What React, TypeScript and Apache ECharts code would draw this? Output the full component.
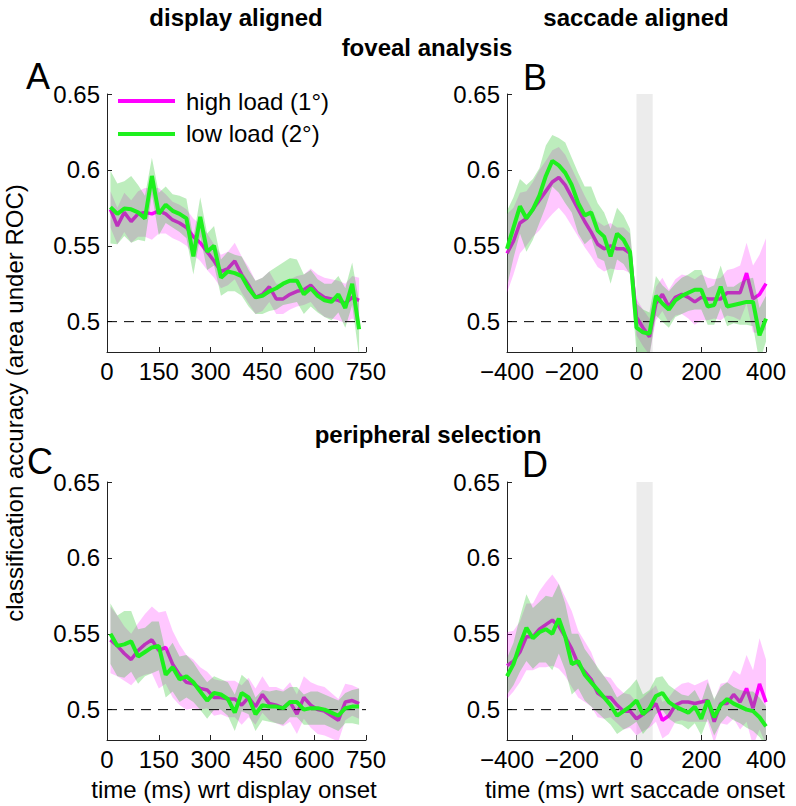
import React, { useEffect, useRef } from "react";
import * as echarts from "echarts";

// ---------- data ----------
const TIMES_DISPLAY = [10, 30, 50, 70, 90, 110, 130, 150, 170, 190, 210, 230, 250, 270, 290, 310, 330, 350, 370, 390, 410, 430, 450, 470, 490, 510, 530, 550, 570, 590, 610, 630, 650, 670, 690, 710, 730];
const TIMES_SACCADE = [-400, -380, -360, -340, -320, -300, -280, -260, -240, -220, -200, -180, -160, -140, -120, -100, -80, -60, -40, -20, 0, 20, 40, 60, 80, 100, 120, 140, 160, 180, 200, 220, 240, 260, 280, 300, 320, 340, 360, 380, 400];

// Panel A: foveal analysis, display aligned
const A_HIGH = [0.574, 0.563, 0.572, 0.566, 0.571, 0.572, 0.571, 0.573, 0.571, 0.567, 0.565, 0.562, 0.556, 0.552, 0.546, 0.540, 0.533, 0.535, 0.540, 0.531, 0.524, 0.516, 0.518, 0.523, 0.515, 0.515, 0.518, 0.520, 0.521, 0.524, 0.519, 0.516, 0.515, 0.514, 0.512, 0.516, 0.514];
const A_HIGH_ERR = [0.012, 0.012, 0.013, 0.014, 0.015, 0.016, 0.017, 0.015, 0.013, 0.012, 0.012, 0.012, 0.012, 0.012, 0.012, 0.011, 0.011, 0.011, 0.012, 0.012, 0.012, 0.011, 0.011, 0.010, 0.010, 0.010, 0.010, 0.010, 0.010, 0.011, 0.012, 0.013, 0.013, 0.013, 0.013, 0.014, 0.015];
const A_LOW = [0.5755, 0.571, 0.5745, 0.574, 0.572, 0.568, 0.596, 0.571, 0.577, 0.573, 0.571, 0.568, 0.543, 0.569, 0.546, 0.550, 0.529, 0.533, 0.532, 0.530, 0.522, 0.516, 0.517, 0.520, 0.522, 0.525, 0.527, 0.527, 0.518, 0.522, 0.517, 0.514, 0.513, 0.518, 0.509, 0.525, 0.495];
const A_LOW_ERR = [0.024, 0.02, 0.018, 0.022, 0.018, 0.015, 0.012, 0.014, 0.012, 0.011, 0.012, 0.013, 0.012, 0.013, 0.012, 0.013, 0.012, 0.013, 0.012, 0.013, 0.012, 0.011, 0.012, 0.013, 0.014, 0.014, 0.015, 0.014, 0.013, 0.012, 0.011, 0.011, 0.012, 0.012, 0.013, 0.014, 0.018];

// Panel B: foveal analysis, saccade aligned
const B_HIGH = [0.545, 0.553, 0.565, 0.568, 0.574, 0.580, 0.586, 0.592, 0.595, 0.590, 0.582, 0.574, 0.566, 0.559, 0.551, 0.548, 0.550, 0.548, 0.548, 0.545, 0.503, 0.496, 0.490, 0.512, 0.518, 0.510, 0.516, 0.518, 0.516, 0.513, 0.516, 0.515, 0.515, 0.515, 0.519, 0.519, 0.519, 0.532, 0.515, 0.518, 0.525];
const B_HIGH_ERR = [0.026, 0.022, 0.02, 0.018, 0.018, 0.02, 0.02, 0.021, 0.02, 0.02, 0.019, 0.018, 0.017, 0.016, 0.015, 0.015, 0.015, 0.014, 0.014, 0.013, 0.012, 0.012, 0.012, 0.011, 0.011, 0.011, 0.012, 0.013, 0.014, 0.015, 0.015, 0.014, 0.013, 0.014, 0.015, 0.016, 0.018, 0.02, 0.022, 0.026, 0.03];
const B_LOW = [0.548, 0.562, 0.576, 0.568, 0.574, 0.583, 0.596, 0.606, 0.603, 0.598, 0.590, 0.578, 0.570, 0.572, 0.560, 0.556, 0.543, 0.558, 0.554, 0.546, 0.496, 0.493, 0.492, 0.517, 0.512, 0.508, 0.514, 0.517, 0.519, 0.521, 0.521, 0.510, 0.511, 0.523, 0.510, 0.511, 0.512, 0.513, 0.513, 0.491, 0.502];
const B_LOW_ERR = [0.025, 0.02, 0.018, 0.022, 0.02, 0.018, 0.02, 0.017, 0.018, 0.02, 0.018, 0.02, 0.019, 0.017, 0.018, 0.016, 0.018, 0.017, 0.016, 0.015, 0.016, 0.015, 0.014, 0.013, 0.012, 0.012, 0.011, 0.012, 0.012, 0.013, 0.013, 0.012, 0.013, 0.014, 0.013, 0.012, 0.014, 0.015, 0.016, 0.018, 0.015];

// Panel C: peripheral selection, display aligned
const C_HIGH = [0.546, 0.542, 0.537, 0.533, 0.539, 0.543, 0.546, 0.539, 0.541, 0.530, 0.523, 0.518, 0.517, 0.514, 0.513, 0.508, 0.508, 0.507, 0.507, 0.503, 0.508, 0.502, 0.510, 0.504, 0.503, 0.501, 0.505, 0.497, 0.508, 0.503, 0.500, 0.499, 0.496, 0.493, 0.505, 0.506, 0.504];
const C_HIGH_ERR = [0.022, 0.02, 0.018, 0.017, 0.018, 0.02, 0.022, 0.025, 0.024, 0.022, 0.02, 0.018, 0.016, 0.014, 0.012, 0.012, 0.011, 0.012, 0.012, 0.013, 0.013, 0.012, 0.012, 0.011, 0.012, 0.012, 0.013, 0.013, 0.014, 0.015, 0.016, 0.016, 0.015, 0.014, 0.012, 0.01, 0.01];
const C_LOW = [0.550, 0.542, 0.543, 0.545, 0.535, 0.538, 0.541, 0.542, 0.523, 0.528, 0.520, 0.522, 0.518, 0.512, 0.506, 0.511, 0.510, 0.507, 0.498, 0.511, 0.508, 0.497, 0.503, 0.502, 0.502, 0.501, 0.505, 0.505, 0.500, 0.501, 0.501, 0.500, 0.498, 0.496, 0.501, 0.502, 0.502];
const C_LOW_ERR = [0.02, 0.02, 0.022, 0.02, 0.018, 0.016, 0.017, 0.016, 0.015, 0.016, 0.015, 0.014, 0.013, 0.012, 0.012, 0.011, 0.01, 0.011, 0.012, 0.012, 0.011, 0.011, 0.01, 0.01, 0.011, 0.011, 0.01, 0.01, 0.01, 0.011, 0.011, 0.01, 0.01, 0.01, 0.01, 0.011, 0.012];

// Panel D: peripheral selection, saccade aligned
const D_HIGH = [0.529, 0.532, 0.538, 0.548, 0.548, 0.553, 0.556, 0.559, 0.555, 0.548, 0.540, 0.530, 0.525, 0.520, 0.511, 0.508, 0.508, 0.503, 0.499, 0.499, 0.494, 0.497, 0.500, 0.504, 0.493, 0.496, 0.503, 0.505, 0.505, 0.504, 0.505, 0.506, 0.492, 0.504, 0.504, 0.510, 0.505, 0.514, 0.501, 0.517, 0.505];
const D_HIGH_ERR = [0.022, 0.02, 0.02, 0.022, 0.022, 0.025, 0.028, 0.03, 0.028, 0.026, 0.025, 0.022, 0.02, 0.018, 0.016, 0.014, 0.013, 0.012, 0.012, 0.011, 0.011, 0.011, 0.012, 0.012, 0.012, 0.012, 0.011, 0.012, 0.013, 0.012, 0.013, 0.014, 0.014, 0.013, 0.014, 0.016, 0.018, 0.022, 0.025, 0.03, 0.028];
const D_LOW = [0.522, 0.530, 0.543, 0.554, 0.547, 0.551, 0.553, 0.550, 0.560, 0.548, 0.530, 0.532, 0.523, 0.518, 0.513, 0.508, 0.503, 0.496, 0.499, 0.502, 0.506, 0.497, 0.501, 0.509, 0.511, 0.505, 0.502, 0.500, 0.498, 0.502, 0.494, 0.506, 0.495, 0.503, 0.507, 0.504, 0.502, 0.500, 0.499, 0.495, 0.489];
const D_LOW_ERR = [0.012, 0.014, 0.018, 0.022, 0.02, 0.02, 0.022, 0.024, 0.023, 0.022, 0.02, 0.018, 0.017, 0.016, 0.015, 0.014, 0.013, 0.012, 0.012, 0.013, 0.014, 0.013, 0.012, 0.012, 0.011, 0.011, 0.011, 0.01, 0.011, 0.011, 0.011, 0.012, 0.012, 0.012, 0.011, 0.011, 0.011, 0.012, 0.013, 0.013, 0.013];

const Y_TICKS = [0.5, 0.55, 0.6, 0.65];
const Y_MIN = 0.48;
const Y_MAX = 0.65;
const CHANCE = 0.5;
const SACCADE_WINDOW = [0, 50];
const SERIES_NAMES = ["high load (1°)", "low load (2°)"];

const FONT = "Liberation Sans, Arial, Helvetica, sans-serif";
const MAGENTA = "#ff00ff";
const GREEN = "#1ef01e";
const PINK_BAND = "rgba(255,0,255,0.22)";
const GREEN_BAND = "rgba(10,190,10,0.27)";

const PANELS = [
  { times: TIMES_DISPLAY, high: A_HIGH, highErr: A_HIGH_ERR, low: A_LOW, lowErr: A_LOW_ERR, saccade: false, xMin: 0, xMax: 750, step: 150 },
  { times: TIMES_SACCADE, high: B_HIGH, highErr: B_HIGH_ERR, low: B_LOW, lowErr: B_LOW_ERR, saccade: true, xMin: -400, xMax: 400, step: 200 },
  { times: TIMES_DISPLAY, high: C_HIGH, highErr: C_HIGH_ERR, low: C_LOW, lowErr: C_LOW_ERR, saccade: false, xMin: 0, xMax: 750, step: 150 },
  { times: TIMES_SACCADE, high: D_HIGH, highErr: D_HIGH_ERR, low: D_LOW, lowErr: D_LOW_ERR, saccade: true, xMin: -400, xMax: 400, step: 200 },
];

const GRIDS = [
  { left: 107, top: 94, width: 259, height: 258 },
  { left: 507, top: 94, width: 259, height: 258 },
  { left: 107, top: 482, width: 259, height: 258 },
  { left: 507, top: 482, width: 259, height: 258 },
];

function buildOption() {
  const series: any[] = [];
  PANELS.forEach((p, i) => {
    const ax = { xAxisIndex: i, yAxisIndex: i };
    if (p.saccade) {
      series.push({
        type: "custom",
        ...ax,
        z: 1,
        silent: true,
        clip: true,
        data: [SACCADE_WINDOW],
        renderItem: (params: any, api: any) => {
          const a = api.coord([api.value(0), Y_MAX]);
          const b = api.coord([api.value(1), Y_MIN]);
          return {
            type: "rect",
            shape: { x: a[0], y: a[1], width: b[0] - a[0], height: b[1] - a[1] },
            style: { fill: "#ececec" },
          };
        },
      });
    }
    // confidence band: one polygon through upper then lower bounds
    const band = (mean: number[], err: number[], color: string, z: number) => ({
      type: "custom",
      ...ax,
      z,
      silent: true,
      clip: true,
      data: p.times.map((t, k) => [t, mean[k] - err[k], mean[k] + err[k]]),
      encode: { x: 0, y: [1, 2] },
      renderItem: (params: any, api: any) => {
        if (params.dataIndex !== 0) return null;
        const upper = p.times.map((t, k) => api.coord([t, mean[k] + err[k]]));
        const lower = p.times.map((t, k) => api.coord([t, mean[k] - err[k]])).reverse();
        return {
          type: "polygon",
          shape: { points: upper.concat(lower) },
          style: { fill: color, stroke: "none" },
        };
      },
    });
    series.push(band(p.high, p.highErr, PINK_BAND, 2));
    series.push({
      type: "line",
      name: SERIES_NAMES[0],
      ...ax,
      z: 3,
      symbol: "none",
      lineStyle: { color: MAGENTA, width: 3.5 },
      data: p.times.map((t, k) => [t, p.high[k]]),
    });
    series.push(band(p.low, p.lowErr, GREEN_BAND, 4));
    series.push({
      type: "line",
      ...ax,
      z: 5,
      symbol: "none",
      silent: true,
      lineStyle: { color: "#000", width: 1, type: [10, 7] },
      data: [
        [p.xMin, CHANCE],
        [p.xMax, CHANCE],
      ],
    });
    series.push({
      type: "line",
      name: SERIES_NAMES[1],
      ...ax,
      z: 6,
      symbol: "none",
      lineStyle: { color: GREEN, width: 4 },
      data: p.times.map((t, k) => [t, p.low[k]]),
    });
  });

  const axisLineStyle = { color: "#222", width: 1 };
  const xAxis = PANELS.map((p, i) => ({
    type: "value",
    gridIndex: i,
    min: p.xMin,
    max: p.xMax,
    interval: p.step,
    splitLine: { show: false },
    axisLine: { show: true, onZero: false, lineStyle: axisLineStyle },
    axisTick: { show: true, inside: true, length: 5, lineStyle: axisLineStyle },
    axisLabel: {
      show: true,
      margin: 7,
      fontSize: 24,
      color: "#000",
      fontFamily: FONT,
      showMinLabel: true,
      showMaxLabel: true,
      formatter: (v: number) => (v < 0 ? "\u2212" + -v : String(v)),
    },
  }));
  const yAxis = PANELS.map((p, i) => ({
    type: "value",
    gridIndex: i,
    min: Y_MIN,
    max: Y_MAX,
    splitLine: { show: false },
    axisLine: { show: true, onZero: false, lineStyle: axisLineStyle },
    axisTick: { show: true, inside: true, length: 5, lineStyle: axisLineStyle, customValues: Y_TICKS },
    axisLabel: {
      show: true,
      margin: 7,
      fontSize: 24,
      color: "#000",
      fontFamily: FONT,
      customValues: Y_TICKS,
      formatter: (v: number) => String(Math.round(v * 100) / 100),
    },
  }));

  const txt = (text: string, x: number, y: number, size: number, bold = false, extra: any = {}) => ({
    type: "text",
    x,
    y,
    ...extra,
    style: {
      text,
      fontSize: size,
      fontWeight: bold ? "bold" : "normal",
      fontFamily: FONT,
      fill: "#000",
      align: "center",
      verticalAlign: "middle",
    },
  });

  const graphic: any[] = [
    txt("display aligned", 236, 17, 24, true),
    txt("saccade aligned", 636, 17, 24, true),
    txt("foveal analysis", 427, 47, 24, true),
    txt("peripheral selection", 428, 434, 24, true),
    txt("A", 38, 76, 36),
    txt("B", 535, 77, 36),
    txt("C", 40, 461, 36),
    txt("D", 535, 464, 36),
    txt("time (ms) wrt display onset", 234, 789, 24),
    txt("time (ms) wrt saccade onset", 635, 789, 24),
    txt("classification accuracy (area under ROC)", 14, 403, 24, false, { rotation: Math.PI / 2 }),
    { type: "line", shape: { x1: 118, y1: 101, x2: 175, y2: 101 }, style: { stroke: MAGENTA, lineWidth: 4 } },
    { type: "line", shape: { x1: 118, y1: 134, x2: 175, y2: 134 }, style: { stroke: GREEN, lineWidth: 4 } },
    {
      type: "text",
      x: 186,
      y: 101,
      style: { text: SERIES_NAMES[0], fontSize: 24, fontFamily: FONT, fill: "#000", align: "left", verticalAlign: "middle" },
    },
    {
      type: "text",
      x: 186,
      y: 133,
      style: { text: SERIES_NAMES[1], fontSize: 24, fontFamily: FONT, fill: "#000", align: "left", verticalAlign: "middle" },
    },
  ];

  return {
    animation: false,
    backgroundColor: "#fff",
    textStyle: { fontFamily: FONT },
    grid: GRIDS.map((g) => ({ ...g, containLabel: false })),
    xAxis,
    yAxis,
    series,
    graphic,
  };
}

export default function App() {
  const ref = useRef<HTMLDivElement>(null);
  useEffect(() => {
    document.body.style.margin = "0";
    if (!ref.current) return;
    const chart = echarts.init(ref.current, undefined, { renderer: "svg" });
    chart.setOption(buildOption() as any);
    return () => chart.dispose();
  }, []);
  return <div ref={ref} style={{ width: 796, height: 806 }} />;
}
